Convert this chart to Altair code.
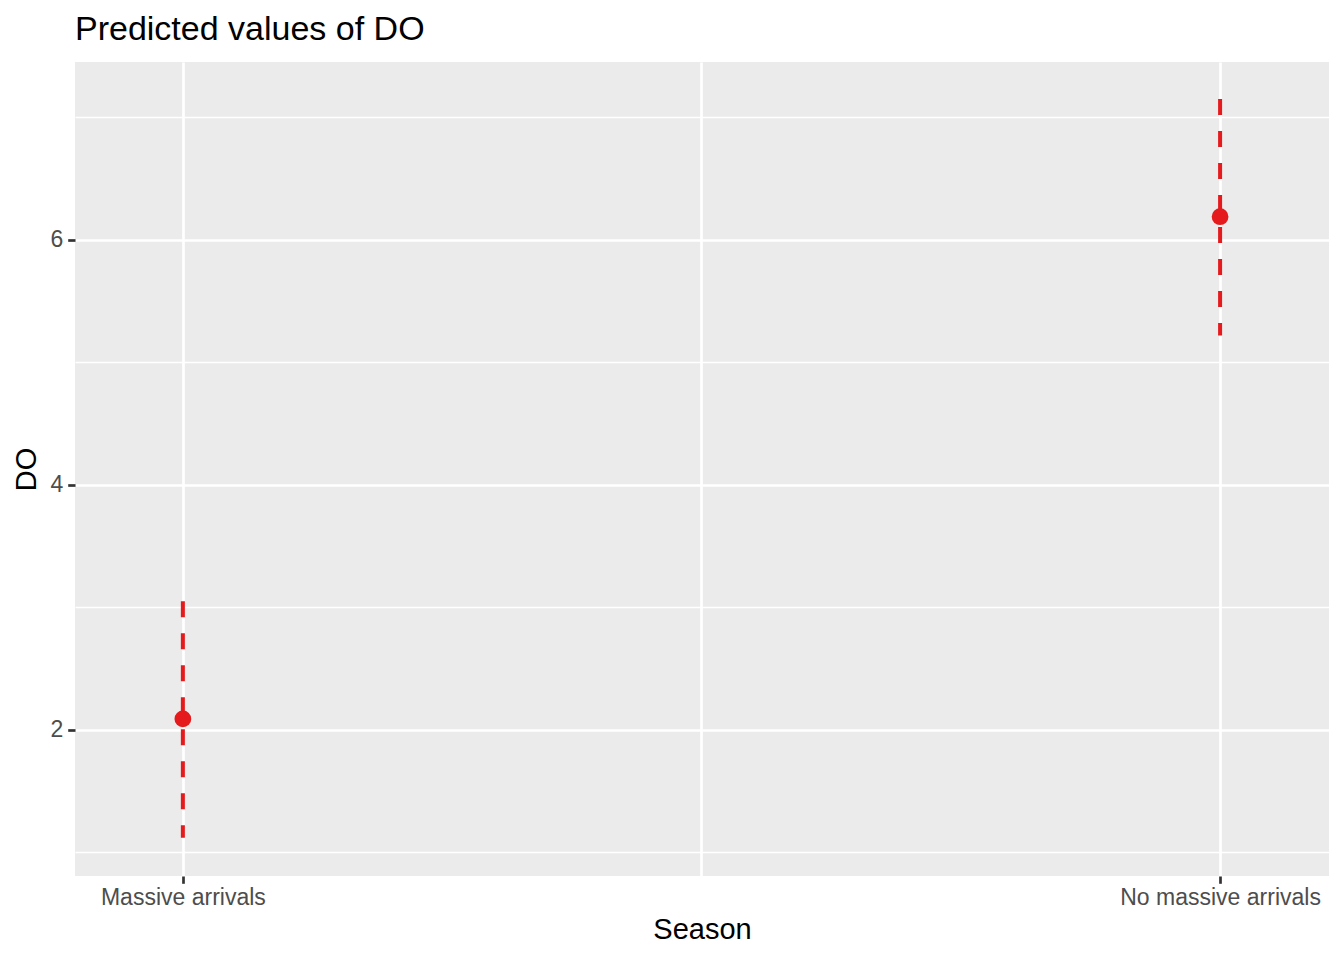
import json
import altair as alt
import pandas as pd

# ---- data ----
seasons = ["Massive arrivals", "No massive arrivals"]
season_pos = [1, 2]
predicted = [2.09, 6.19]
conf_low = [1.12, 5.22]
conf_high = [3.05, 7.15]

major_y = [2, 4, 6]
minor_y = [1, 3, 5, 7]
major_x = [1, 2]
minor_x = [1.5]

df = pd.DataFrame({
    "Season": seasons,
    "pos": season_pos,
    "predicted": predicted,
    "low": conf_low,
    "high": conf_high,
})

RED = "#E41A1C"
FONT = "Liberation Sans"

xs = alt.Scale(domain=[0.896, 2.105], nice=False, zero=False)
ys = alt.Scale(domain=[0.808, 7.453], nice=False, zero=False)

label_expr = json.dumps(seasons) + "[datum.value - 1]"

x_axis = alt.Axis(
    values=major_x, labelExpr=label_expr, title="Season",
    grid=True, gridColor="white", gridWidth=2.7,
    domain=False, ticks=True, tickColor="#333333", tickWidth=2.7, tickSize=7.3,
    labelColor="#4D4D4D", labelFontSize=23, labelPadding=3, labelFont=FONT,
    labelLimit=0,
    titleFontSize=29, titleColor="black", titleFontWeight="normal", titleFont=FONT,
    titlePadding=6,
)
y_axis = alt.Axis(
    values=major_y, title="DO", format="d",
    grid=True, gridColor="white", gridWidth=2.7,
    domain=False, ticks=True, tickColor="#333333", tickWidth=2.7, tickSize=7.3,
    labelColor="#4D4D4D", labelFontSize=23, labelPadding=5, labelFont=FONT,
    titleFontSize=29, titleColor="black", titleFontWeight="normal", titleFont=FONT,
    titlePadding=8,
)

minor_x_axis = alt.Axis(values=minor_x, grid=True, gridColor="white", gridWidth=2.7,
                        labels=False, ticks=False, domain=False, title=None)
minor_y_axis = alt.Axis(values=minor_y, grid=True, gridColor="white", gridWidth=1.3,
                        labels=False, ticks=False, domain=False, title=None)

err = alt.Chart(df).mark_rule(color=RED, strokeWidth=4, strokeDash=[16, 16]).encode(
    x=alt.X("pos:Q", scale=xs, axis=x_axis),
    y=alt.Y("high:Q", scale=ys, axis=y_axis),
    y2="low:Q",
)

minor = alt.Chart(df).mark_point(opacity=0).encode(
    x=alt.X("pos:Q", scale=xs, axis=minor_x_axis),
    y=alt.Y("predicted:Q", scale=ys, axis=minor_y_axis),
)

pts = alt.Chart(df).mark_circle(color=RED, size=280, opacity=1).encode(
    x=alt.X("pos:Q", scale=xs, axis=None),
    y=alt.Y("predicted:Q", scale=ys, axis=None),
)

chart = alt.layer(err, minor, pts).resolve_axis(x="independent", y="independent").properties(
    width=1254,
    height=814,
    title=alt.TitleParams("Predicted values of DO", anchor="start", frame="group",
                          fontSize=34, fontWeight="normal", color="black", font=FONT,
                          offset=15),
    autosize=alt.AutoSizeParams(type="none"),
    padding={"left": 67, "top": 54, "right": 7, "bottom": 76},
).configure(
    font=FONT,
    view=alt.ViewConfig(fill="#EBEBEB", stroke=None),
)

chart.save("out.html", embed_options={"renderer": "svg", "actions": False})
